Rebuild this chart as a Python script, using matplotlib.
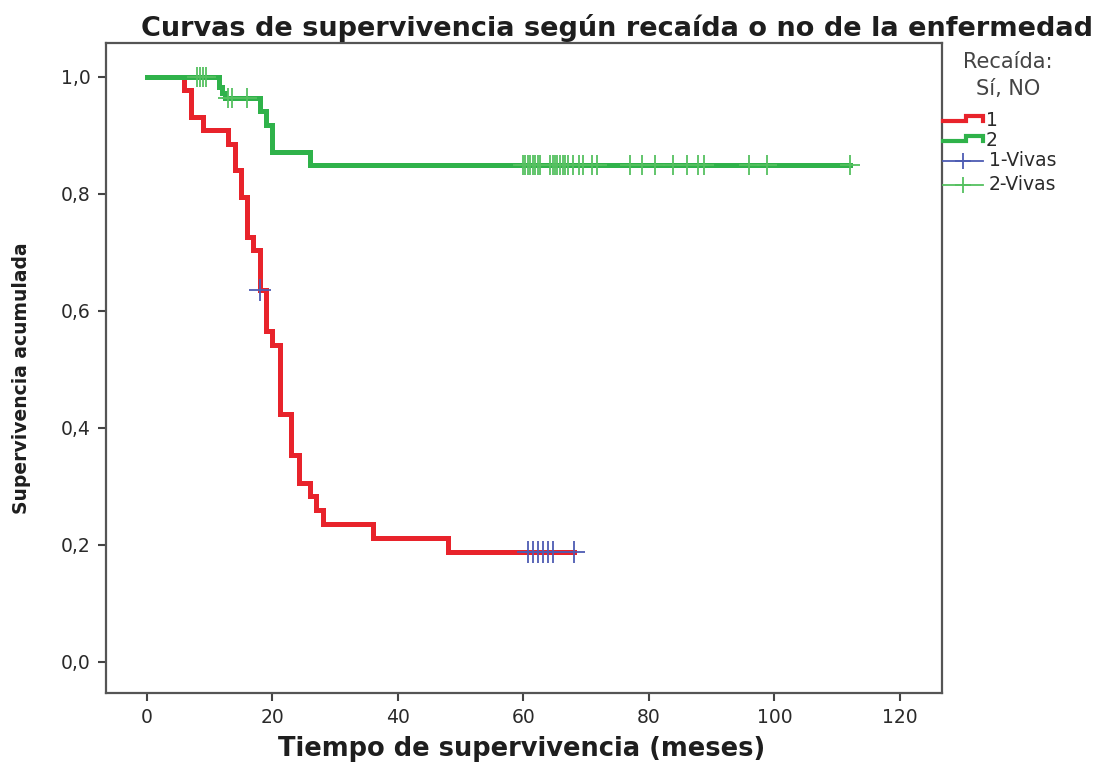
import numpy as np
import matplotlib
matplotlib.use('Agg')
from matplotlib import pyplot as plt

# Recaida = 1 (si)
red_t = [0, 6, 7, 9, 13, 14, 15, 16, 17, 18, 19, 20, 21.3, 23, 24.3, 26, 27, 28, 36, 48, 68]
red_s = [1.0, 0.977, 0.932, 0.909, 0.886, 0.841, 0.795, 0.727, 0.705, 0.636, 0.565, 0.542,
         0.424, 0.353, 0.306, 0.283, 0.259, 0.236, 0.212, 0.188, 0.188]
red_cens = [18, 60.8, 61.6, 62.4, 63.2, 64.0, 64.8, 68.0]

# Recaida = 2 (no)
green_t = [0, 11.5, 12, 12.5, 18, 19, 20, 26, 112]
green_s = [1.0, 0.982, 0.973, 0.964, 0.941, 0.918, 0.872, 0.850, 0.850]
green_cens = [8, 8.5, 9, 9.5, 13, 13.5, 16,
              59.9, 60.3, 60.7, 61.1, 61.5, 61.9, 62.3, 62.7, 64.3, 64.7, 65.1, 65.4,
              65.9, 66.3, 66.7, 67.1, 67.9, 68.8, 69.5, 70.9, 71.7, 77.0, 78.9, 81.0,
              83.9, 86.1, 87.9, 88.7, 95.9, 98.8, 112.1]

xticks = [0, 20, 40, 60, 80, 100, 120]
yticks = [0.0, 0.2, 0.4, 0.6, 0.8, 1.0]
ylabels = ['0,0', '0,2', '0,4', '0,6', '0,8', '1,0']

RED = '#e8232b'
GREEN = '#2fb24a'
BLUE = '#4d5cb3'
GREEN_C = '#55c060'
TXT = '#2a2a2a'


def surv_at(times, t_arr, s_arr):
    idx = np.searchsorted(t_arr, times, side='right') - 1
    return np.array(s_arr)[np.clip(idx, 0, len(s_arr) - 1)]


W, H = 1108, 763
fig = plt.figure(figsize=(W / 100, H / 100), dpi=100)
ax = fig.add_axes([106 / W, 1 - 693 / H, (942 - 106) / W, (693 - 43) / H])

ax.step(red_t, red_s, where='post', color=RED, lw=3.6, solid_joinstyle='miter')
ax.step(green_t, green_s, where='post', color=GREEN, lw=3.6, solid_joinstyle='miter')
ax.plot(red_cens, surv_at(red_cens, red_t, red_s), ls='none', marker='+',
        ms=16, mew=1.3, color=BLUE)
ax.plot(green_cens, surv_at(green_cens, green_t, green_s), ls='none', marker='+',
        ms=14, mew=1.3, color=GREEN_C)

ax.set_xlim(-6.5, 126.7)
ax.set_ylim(-0.053, 1.058)
ax.set_xticks(xticks)
ax.set_xticklabels([str(v) for v in xticks])
ax.set_yticks(yticks)
ax.set_yticklabels(ylabels)
ax.tick_params(direction='out', length=6, width=1.5, color='#444444',
               labelsize=13.5, labelcolor=TXT, pad=5)
for sp in ax.spines.values():
    sp.set_color('#555555')
    sp.set_linewidth(1.6)

fig.text(617 / W, 1 - 28 / H, 'Curvas de supervivencia según recaída o no de la enfermedad',
         ha='center', va='center', fontsize=19.5, fontweight='bold', color='#1e1e1e')
fig.text(522 / W, 1 - 749 / H, 'Tiempo de supervivencia (meses)',
         ha='center', va='center', fontsize=18.5, fontweight='bold', color='#1e1e1e')
fig.text(22 / W, 1 - 378 / H, 'Supervivencia acumulada', rotation=90,
         ha='center', va='center', fontsize=13.5, fontweight='bold', color='#1e1e1e')

# leyenda dibujada a mano (estilo SPSS)
lax = fig.add_axes([0, 0, 1, 1], facecolor='none')
lax.set_xlim(0, W)
lax.set_ylim(H, 0)
lax.axis('off')
lax.text(1008, 62, 'Recaída:', ha='center', va='center', fontsize=15, color='#444444')
lax.text(1008, 89, 'Sí, NO', ha='center', va='center', fontsize=15, color='#444444')
for yy, col, lab in [(121, RED, '1'), (141, GREEN, '2')]:
    lax.plot([943, 966, 966, 983, 983], [yy, yy, yy - 5, yy - 5, yy],
             color=col, lw=3, solid_joinstyle='miter')
    lax.text(986, yy - 1, lab, ha='left', va='center', fontsize=13.5, color=TXT)
for yy, col, lab in [(161, BLUE, '1-Vivas'), (185, GREEN_C, '2-Vivas')]:
    lax.plot([943, 983], [yy, yy], color=col, lw=1.3)
    lax.plot([963], [yy], marker='+', ms=11, mew=1.3, color=col)
    lax.text(989, yy, lab, ha='left', va='center', fontsize=13.5, color=TXT)

fig.savefig('out.png', dpi=100)
